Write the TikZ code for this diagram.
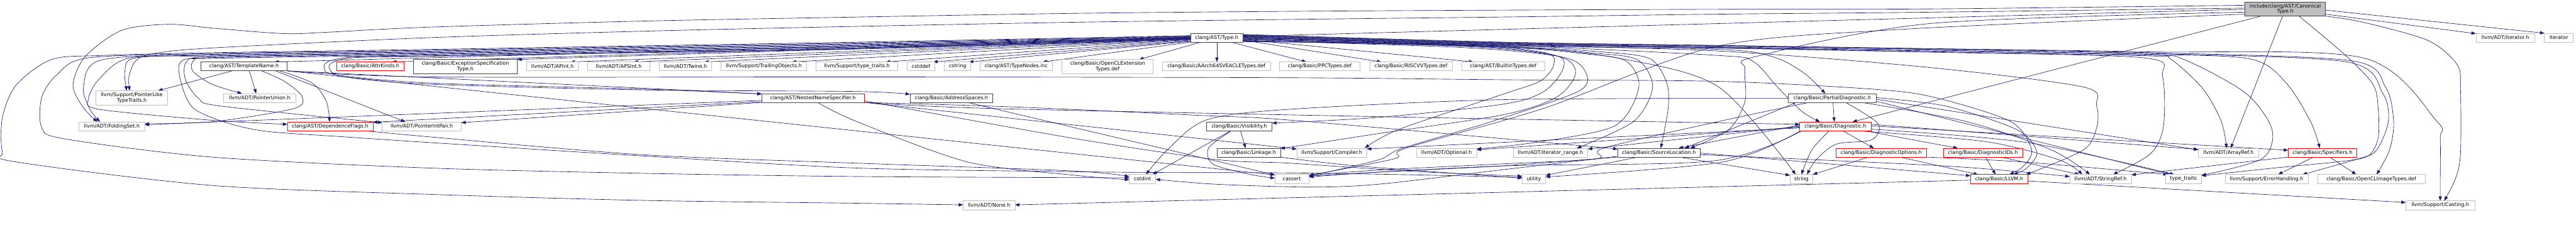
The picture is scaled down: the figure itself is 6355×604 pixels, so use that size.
\documentclass[tikz,border=0pt]{standalone}
\usepackage{fontspec}
\setmainfont{DejaVu Sans}
\usetikzlibrary{arrows.meta}
\definecolor{ec}{RGB}{25,25,112}
\definecolor{gb}{RGB}{191,191,191}
\definecolor{kb}{RGB}{64,64,64}
\definecolor{rb}{RGB}{255,0,0}
\pgfdeclarelayer{bg}
\pgfsetlayers{bg,main}
\tikzset{
  bx/.style={draw, line width=1pt, inner sep=0pt, outer sep=0pt, align=center, text=black, fill=white,
    font=\fontsize{12.4}{13.3}\selectfont},
  gbox/.style={bx, draw=gb},
  kbox/.style={bx, draw=kb},
  rbox/.style={bx, draw=rb},
  rootbox/.style={bx, draw=kb, fill=gb},
  lnk/.style={draw=ec, line width=1pt, line join=round, -{Triangle[length=11pt,width=8pt]}}
}
\newcommand{\mkn}[7]{\node[#6, minimum width={#4-#2}, minimum height={#5-#3}] (#1) at ({(#2+#4)/2},{(#3+#5)/2}) {#7};}
\newcommand{\edgeS}[2]{\draw[lnk] #1 -- #2;}
\newcommand{\edgeR}[1]{\draw[lnk] plot[smooth,tension=0.5] coordinates {#1};}
\begin{document}
\begin{tikzpicture}[x=1pt,y=-1pt]
\useasboundingbox (0,0) rectangle (6355,604);
\begin{pgfonlayer}{bg}
\fill[white] (0,0) rectangle (6355,604);
\end{pgfonlayer}
% nodes
\mkn{CT}{5538}{5}{5737}{40}{rootbox}{include/clang/AST/Canonical\\Type.h}
\mkn{T}{2937}{82}{3066}{104}{kbox}{clang/AST/Type.h}
\mkn{ITH}{6108}{82}{6253}{104}{gbox}{llvm/ADT/iterator.h}
\mkn{IT}{6277}{82}{6348}{104}{gbox}{iterator}
\mkn{TN}{496}{153}{708}{175}{kbox}{clang/AST/TemplateName.h}
\mkn{AK}{830}{153}{997}{175}{rbox}{clang/Basic/AttrKinds.h}
\mkn{EST}{1020}{147}{1276}{182}{kbox}{clang/Basic/ExceptionSpecification\\Type.h}
\mkn{API}{1299}{153}{1427}{175}{gbox}{llvm/ADT/APInt.h}
\mkn{APS}{1450}{153}{1603}{175}{gbox}{llvm/ADT/APSInt.h}
\mkn{TW}{1626}{153}{1756}{175}{gbox}{llvm/ADT/Twine.h}
\mkn{TO}{1779}{153}{1990}{175}{gbox}{llvm/Support/TrailingObjects.h}
\mkn{LTT}{2013}{153}{2215}{175}{gbox}{llvm/Support/type\_traits.h}
\mkn{CSD}{2238}{153}{2306}{175}{gbox}{cstddef}
\mkn{CST}{2330}{153}{2395}{175}{gbox}{cstring}
\mkn{TNI}{2418}{153}{2596}{175}{gbox}{clang/AST/TypeNodes.inc}
\mkn{OCE}{2620}{147}{2845}{182}{gbox}{clang/Basic/OpenCLExtension\\Types.def}
\mkn{SVE}{2868}{153}{3134}{175}{gbox}{clang/Basic/AArch64SVEACLETypes.def}
\mkn{PPC}{3157}{153}{3355}{175}{gbox}{clang/Basic/PPCTypes.def}
\mkn{RV}{3379}{153}{3583}{175}{gbox}{clang/Basic/RISCVVTypes.def}
\mkn{BT}{3606}{153}{3811}{175}{gbox}{clang/AST/BuiltinTypes.def}
\mkn{PLT}{237}{224}{413}{259}{gbox}{llvm/Support/PointerLike\\TypeTraits.h}
\mkn{PU}{552}{231}{729}{253}{gbox}{llvm/ADT/PointerUnion.h}
\mkn{NNS}{1879}{231}{2132}{253}{rbox}{clang/AST/NestedNameSpecifier.h}
\mkn{AS}{2245}{231}{2449}{253}{kbox}{clang/Basic/AddressSpaces.h}
\mkn{PD}{4412}{231}{4628}{253}{rbox}{clang/Basic/PartialDiagnostic.h}
\mkn{FS}{195}{301}{357}{323}{gbox}{llvm/ADT/FoldingSet.h}
\mkn{DF}{709}{301}{920}{323}{rbox}{clang/AST/DependenceFlags.h}
\mkn{PIP}{943}{301}{1138}{323}{gbox}{llvm/ADT/PointerIntPair.h}
\mkn{VIS}{2976}{301}{3138}{323}{kbox}{clang/Basic/Visibility.h}
\mkn{DG}{4440}{301}{4616}{323}{rbox}{clang/Basic/Diagnostic.h}
\mkn{LK}{3002}{366}{3159}{388}{kbox}{clang/Basic/Linkage.h}
\mkn{CMP}{3199}{366}{3372}{388}{gbox}{llvm/Support/Compiler.h}
\mkn{OPT}{3494}{366}{3643}{388}{gbox}{llvm/ADT/Optional.h}
\mkn{ITR}{3733}{366}{3917}{388}{gbox}{llvm/ADT/iterator\_range.h}
\mkn{SL}{3991}{366}{4194}{388}{kbox}{clang/Basic/SourceLocation.h}
\mkn{DO}{4529}{366}{4753}{388}{rbox}{clang/Basic/DiagnosticOptions.h}
\mkn{DID}{4794}{366}{4990}{388}{rbox}{clang/Basic/DiagnosticIDs.h}
\mkn{AR}{5423}{366}{5572}{388}{gbox}{llvm/ADT/ArrayRef.h}
\mkn{SP}{5645}{366}{5814}{388}{rbox}{clang/Basic/Specifiers.h}
\mkn{CI}{2786}{431}{2851}{453}{gbox}{cstdint}
\mkn{CA}{3145}{431}{3229}{453}{gbox}{cassert}
\mkn{UT}{3755}{431}{3813}{453}{gbox}{utility}
\mkn{STR}{4416}{431}{4472}{453}{gbox}{string}
\mkn{LL}{4861}{431}{5003}{453}{rbox}{clang/Basic/LLVM.h}
\mkn{SR}{5106}{431}{5258}{453}{gbox}{llvm/ADT/StringRef.h}
\mkn{TT}{5342}{431}{5431}{453}{gbox}{type\_traits}
\mkn{EH}{5489}{431}{5694}{453}{gbox}{llvm/Support/ErrorHandling.h}
\mkn{OCI}{5717}{431}{5983}{453}{gbox}{clang/Basic/OpenCLImageTypes.def}
\mkn{NO}{2376}{496}{2504}{518}{gbox}{llvm/ADT/None.h}
\mkn{CAS}{5935}{496}{6105}{518}{gbox}{llvm/Support/Casting.h}
\begin{pgfonlayer}{bg}
% ---- CanonicalType.h
\edgeS{([yshift=-18pt]CT.north west)}{([yshift=-8pt]T.north east)}
\edgeS{([xshift=39pt]CT.south west)}{([xshift=130pt]DG.north west)}
\edgeS{([xshift=93pt]CT.south west)}{([xshift=80pt]AR.north west)}
\edgeS{([yshift=-30pt]CT.north east)}{([yshift=-1pt]ITH.north west)}
\edgeS{([yshift=-20pt]CT.north east)}{(IT.north west)}
\edgeR{(CT.south east) (5830,55) (5990,100) (6062,160) (6070,220) (6070,380) (6058,440) ([xshift=95pt]CAS.north west)}
\edgeR{([xshift=134pt]CT.south west) (5790,140) (5855,210) (5867,270) (5867,340) (5845,383) (5790,397) (5600,416) ([yshift=-3pt]TT.north east)}
\edgeR{([yshift=-8pt]CT.north west) (4770,22) (4240,23) (3710,25) (3180,28) (2650,33) (2120,42) (1590,52) (1060,67) (800,80) (700,83) (530,70) (417,60) (300,75) (210,140) (180,210) (205,265) ([xshift=45pt]FS.north west)}
\edgeR{([yshift=-15pt]CT.north west) (4770,30) (4240,35) (3710,42) (3180,48) (2650,55) (2120,65) (1590,77) (1060,93) (530,118) (380,132) (335,150) (318,190) ([xshift=83pt]PLT.north west)}
\edgeR{([yshift=-25pt]CT.north west) (4763,58) (4330,140) (4305,170) (4305,250) (4265,320) ([xshift=179pt]SL.north west)}
\edgeR{([yshift=-30pt]CT.north west) (4700,72) (4233,115) (3810,267) (3468,366) (3440,392) ([yshift=-2pt]CA.north east)}
% ---- Type.h -> row 2
\edgeS{([yshift=1pt]T.west)}{([xshift=181pt]TN.north west)}
\edgeS{(T.west)}{([xshift=137pt]AK.north west)}
\edgeS{([yshift=-1pt]T.west)}{(EST.north east)}
\edgeS{([yshift=-2pt]T.west)}{([xshift=108pt]API.north west)}
\edgeS{([yshift=-3pt]T.west)}{([xshift=113pt]APS.north west)}
\edgeS{([yshift=-4pt]T.west)}{([xshift=111pt]TW.north west)}
\edgeS{([yshift=-5pt]T.west)}{([xshift=174pt]TO.north west)}
\edgeS{([yshift=-6pt]T.west)}{([xshift=172pt]LTT.north west)}
\edgeS{([yshift=-8pt]T.west)}{([xshift=64pt]CSD.north west)}
\edgeS{([yshift=-9pt]T.west)}{([xshift=60pt]CST.north west)}
\edgeS{([yshift=-11pt]T.west)}{([xshift=154pt]TNI.north west)}
\edgeS{([xshift=26pt]T.south west)}{([xshift=190pt]OCE.north west)}
\edgeS{([xshift=65pt]T.south west)}{([xshift=134pt]SVE.north west)}
\edgeS{([xshift=100pt]T.south west)}{([xshift=66pt]PPC.north west)}
\edgeS{([yshift=-6pt]T.east)}{([xshift=29pt]RV.north west)}
\edgeS{([yshift=-4pt]T.east)}{([xshift=29pt]BT.north west)}
% ---- Type.h left loops
\edgeR{([yshift=5pt]T.west) (2120,104) (1590,113) (1060,122) (530,130) (250,137) (127,147) (40,210) (6,290) (6,375) (40,400) (523,458) (1060,480) (1590,495) (2120,502) ([yshift=-10pt]NO.north west)}
\edgeR{([yshift=4pt]T.west) (2120,106) (1590,115) (1060,124) (530,132) (217,143) (140,185) (103,240) (103,315) (160,343) (523,388) (1060,415) (1583,428) (2120,436) ([yshift=-8pt]CI.north west)}
\edgeR{([yshift=3pt]T.west) (2120,108) (1590,117) (1060,126) (530,134) (250,148) (206,215) (222,270) ([xshift=52pt]FS.north west)}
\edgeR{([yshift=2pt]T.west) (2120,110) (1590,119) (1060,128) (530,136) (335,143) (308,175) ([xshift=76pt]PLT.north west)}
\edgeR{([yshift=1pt]T.west) (2120,112) (1590,121) (1060,130) (530,138) (320,143) (245,195) (218,245) (245,270) (523,297) ([yshift=-6pt]DF.north west)}
\edgeR{(T.west) (2120,114) (1590,123) (1060,132) (530,140) (480,147) (475,175) (523,208) ([xshift=45pt]PU.north west)}
\edgeR{([yshift=-1pt]T.west) (2120,116) (1590,125) (1060,134) (530,142) (462,150) (457,195) (490,243) (545,262) ([yshift=-2pt]PIP.north west)}
\edgeR{([yshift=-2pt]T.west) (2120,118) (1590,127) (1060,136) (530,144) (447,152) (447,205) (478,268) (565,305) (663,325) (850,338) (1060,352) (1583,385) (2113,415) (2650,424) (2870,426) (3180,427) (3500,432) ([yshift=-7pt]UT.north west)}
\edgeR{([yshift=-3pt]T.west) (2120,120) (1590,129) (1060,138) (870,141) (810,152) (800,168) (830,185) (1060,205) (1583,220) ([yshift=-1pt]NNS.north west)}
\edgeR{([yshift=-4pt]T.west) (2120,121) (1590,130) (1060,139) (880,142) (825,152) (812,168) (850,190) (1060,208) (1583,222) (2113,226) ([yshift=-2pt]AS.north west)}
% ---- Type.h right side
\edgeR{([yshift=8pt]T.east) (3710,104) (4240,112) (4770,120) (5300,128) (5830,143) (6012,300) (6020,340) (6020,450) ([xshift=85pt]CAS.north west)}
\edgeR{([yshift=7pt]T.east) (3710,105) (4240,113) (4770,121) (5300,130) (5800,150) (5885,215) (5905,300) (5895,370) ([xshift=146pt]OCI.north west)}
\edgeR{([yshift=6pt]T.east) (3710,106) (4240,114) (4770,122) (5300,132) (5790,153) (5878,230) (5892,300) (5862,372) (5815,393) ([xshift=191pt]EH.north west)}
\edgeR{([yshift=5pt]T.east) (3710,107) (4240,116) (4770,124) (5300,134) (5553,146) (5640,205) (5700,300) ([xshift=78pt]SP.north west)}
\edgeR{([yshift=4pt]T.east) (3710,108) (4240,117) (4770,126) (5300,136) (5390,148) (5540,230) (5605,320) (5580,392) ([yshift=-2pt]TT.north east)}
\edgeR{([yshift=3pt]T.east) (3710,109) (4240,118) (4770,128) (5300,138) (5355,146) (5435,220) (5480,300) ([xshift=70pt]AR.north west)}
\edgeR{([yshift=2pt]T.east) (3710,110) (4240,119) (4770,129) (5290,143) (5335,190) (5337,313) (5305,380) ([xshift=107pt]SR.north west)}
\edgeR{([yshift=1pt]T.east) (3710,111) (4240,126) (4763,167) (5140,215) (5172,260) (5173,313) (5140,370) ([xshift=-5pt]LL.north east)}
\edgeR{(T.east) (3710,112) (4240,137) (4325,152) (4385,215) (4445,275) ([xshift=50pt]DG.north west)}
\edgeR{([yshift=-1pt]T.east) (3710,113) (4240,122) (4373,140) (4450,180) ([xshift=91pt]PD.north west)}
\edgeR{([yshift=-2pt]T.east) (3710,114) (4000,145) (4240,215) ([xshift=14pt]STR.north west)}
\edgeR{([yshift=-3pt]T.east) (3710,115) (3950,128) (4070,145) (4112,205) (4115,270) ([xshift=106pt]SL.north west)}
\edgeR{([yshift=-4pt]T.east) (3710,116) (3930,131) (4040,148) (4077,215) (4030,300) ([xshift=157pt]ITR.north west)}
\edgeR{([yshift=-5pt]T.east) (3710,117) (3900,132) (4010,150) (4043,215) (3985,310) (3800,350) ([yshift=-2pt]OPT.north east)}
\edgeR{([yshift=-7pt]T.east) (3600,117) (3850,140) (3910,175) (3895,225) (3680,300) (3460,366) (3400,395) ([yshift=-4pt]CA.north east)}
\edgeR{([yshift=-8pt]T.east) (3600,114) (3840,138) (3887,180) (3840,240) (3710,283) (3400,330) ([yshift=-1pt]LK.north east)}
\edgeR{([yshift=-9pt]T.east) (3600,112) (3830,135) (3857,167) (3810,225) (3710,257) (3400,290) ([yshift=-3pt]VIS.north east)}
\edgeR{([yshift=-10pt]T.east) (3600,110) (3810,130) (3833,160) (3800,200) (3710,232) (3450,320) ([xshift=168pt]CMP.north west)}
% ---- TemplateName.h
\edgeS{([xshift=77pt]TN.south west)}{([xshift=153pt]PLT.north west)}
\edgeS{([xshift=119pt]TN.south west)}{([xshift=80pt]PU.north west)}
\edgeR{([xshift=149pt]TN.south west) (700,200) (745,238) (725,268) (530,300) ([yshift=-5pt]FS.north east)}
\edgeR{([xshift=194pt]TN.south west) (770,205) (805,250) ([xshift=104pt]DF.north west)}
\edgeS{([xshift=184pt]TN.south west)}{([xshift=57pt]PIP.north west)}
\edgeS{(TN.south east)}{([yshift=-1pt]NNS.north west)}
\edgeR{([yshift=-11pt]TN.east) (1060,190) (2120,190) (3180,192) (3710,197) (4240,201) (4617,220) (4770,240) (4960,300) (5012,370) (4990,412) ([xshift=96pt]LL.north west)}
\edgeS{([xshift=212pt]TN.south west)}{([yshift=-1pt]CA.north west)}
% ---- NestedNameSpecifier.h
\edgeS{([yshift=-17pt]NNS.north west)}{([yshift=-7pt]FS.north east)}
\edgeS{([yshift=-20pt]NNS.north west)}{([yshift=-1pt]DF.north east)}
\edgeS{([yshift=-22pt]NNS.north west)}{([yshift=-2pt]PIP.north east)}
\edgeR{(NNS.south east) (2450,268) (3500,290) ([yshift=-6pt]DG.north west)}
\edgeR{(NNS.south east) (2500,264) (2960,285) (3200,298) ([yshift=-2pt]SL.north west)}
\edgeS{(NNS.south east)}{([yshift=-2pt]CMP.north west)}
\edgeR{([xshift=138pt]NNS.south west) (2113,300) (2387,400) (2643,432) ([yshift=-13pt]CI.north west)}
\edgeR{([yshift=-18pt]NNS.north east) (2650,342) (3000,394) (3180,403) (3500,424) ([yshift=-4pt]UT.north west)}
% ---- Visibility, Linkage, AddressSpaces, DependenceFlags
\edgeS{([xshift=84pt]VIS.south west)}{([xshift=71pt]LK.north west)}
\edgeS{([xshift=60pt]VIS.south west)}{([xshift=57pt]CI.north west)}
\edgeR{([xshift=62pt]VIS.south west) (2982,365) (2992,405) (3080,430) ([yshift=-9pt]CA.north west)}
\edgeR{(LK.south east) (3350,410) ([yshift=-9pt]UT.north west)}
\edgeS{([xshift=142pt]AS.south west)}{([yshift=-1pt]CA.north west)}
\edgeR{([xshift=194pt]DF.south west) (1060,338) (1583,382) (2113,403) (2643,422) ([yshift=-5pt]CI.north west)}
% ---- PartialDiagnostic.h
\edgeS{([xshift=110pt]PD.south west)}{([xshift=85pt]DG.north west)}
\edgeR{([xshift=141pt]PD.south west) (4633,305) (4618,345) (4530,356) (4480,395) ([xshift=42pt]STR.north west)}
\edgeS{([yshift=-14pt]PD.north east)}{([yshift=-4pt]AR.north west)}
\edgeR{([xshift=181pt]PD.south west) (4850,300) (5060,370) ([xshift=50pt]SR.north west)}
\edgeR{([yshift=-10pt]PD.north east) (4800,262) (4975,320) (5025,375) (5000,415) ([xshift=106pt]LL.north west)}
\edgeS{([yshift=-19pt]PD.north east)}{([xshift=12pt]TT.north west)}
\edgeR{([xshift=51pt]PD.south west) (4240,300) (3955,366) (3940,392) (3700,405) (3400,420) ([yshift=-2pt]CA.north east)}
\edgeR{([yshift=-12pt]PD.north west) (3710,246) (3180,270) (2977,296) (2883,367) ([xshift=41pt]CI.north west)}
\edgeS{([xshift=20pt]PD.south west)}{([xshift=165pt]SL.north west)}
% ---- SourceLocation.h
\edgeS{([xshift=50pt]SL.south west)}{([yshift=-2pt]UT.north east)}
\edgeR{(SL.south west) (3700,410) (3400,425) ([yshift=-6pt]CA.north east)}
\edgeR{([yshift=-20pt]SL.north west) (3700,420) (3400,455) (3229,462) (3000,455) ([yshift=-12pt]CI.north east)}
\edgeS{([xshift=152pt]SL.south west)}{([yshift=-2pt]STR.north west)}
\edgeS{([yshift=-12pt]SL.north east)}{([yshift=-3pt]LL.north west)}
\edgeR{([yshift=-16pt]SL.north east) (4800,410) ([yshift=-5pt]SR.north west)}
% ---- Diagnostic.h
\edgeS{([xshift=106pt]DG.south west)}{([xshift=94pt]DO.north west)}
\edgeR{([xshift=73pt]DG.south west) (4470,370) ([xshift=28pt]STR.north west)}
\edgeS{([yshift=-8pt]DG.north west)}{([xshift=150pt]SL.north west)}
\edgeS{([yshift=-11pt]DG.north west)}{([yshift=-2pt]ITR.north east)}
\edgeS{([yshift=-13pt]DG.north west)}{([yshift=-4pt]OPT.north east)}
\edgeS{([yshift=-15pt]DG.north west)}{([yshift=-2pt]CMP.north east)}
\edgeR{([xshift=5pt]DG.south west) (4230,397) (3700,410) ([yshift=-4pt]CA.north east)}
\edgeR{([xshift=2pt]DG.south west) (4250,400) ([yshift=-6pt]UT.north east)}
\edgeS{([yshift=-6pt]DG.north east)}{([yshift=-3pt]AR.north west)}
\edgeS{([yshift=-10pt]DG.north east)}{([yshift=-5pt]SP.north west)}
\edgeR{([xshift=143pt]DG.south west) (4900,350) (5080,395) ([xshift=31pt]SR.north west)}
\edgeS{([xshift=160pt]DG.south west)}{([xshift=36pt]DID.north west)}
\edgeR{([yshift=-18pt]DG.north east) (5000,352) ([xshift=22pt]TT.north west)}
% ---- DiagnosticOptions.h, DiagnosticIDs.h
\edgeS{([xshift=81pt]DO.south west)}{(STR.north east)}
\edgeS{([xshift=158pt]DO.south west)}{([xshift=19pt]LL.north west)}
\edgeR{(DO.south east) (4990,400) ([xshift=6pt]TT.north west)}
\edgeS{([xshift=104pt]DID.south west)}{([xshift=62pt]LL.north west)}
\edgeS{([xshift=143pt]DID.south west)}{([xshift=24pt]SR.north west)}
% ---- Specifiers.h
\edgeS{(SP.south west)}{([yshift=-1pt]SR.north east)}
\edgeS{([xshift=62pt]SP.south west)}{([xshift=131pt]EH.north west)}
\edgeS{([xshift=102pt]SP.south west)}{([xshift=96pt]OCI.north west)}
% ---- LLVM.h
\edgeS{([yshift=-14pt]LL.north west)}{([yshift=-10pt]NO.north east)}
\edgeS{([yshift=-16pt]LL.north east)}{([yshift=-4pt]CAS.north west)}
\end{pgfonlayer}
\end{tikzpicture}
\end{document}
